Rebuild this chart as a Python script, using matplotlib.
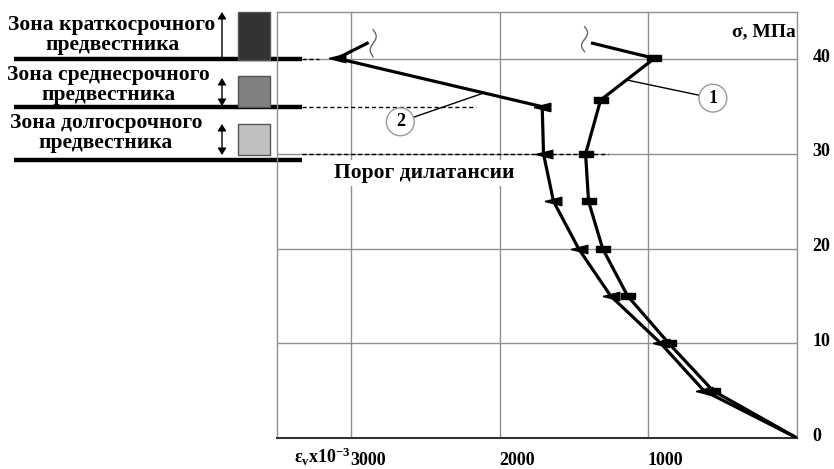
import numpy as np
import matplotlib
matplotlib.use('Agg')
import matplotlib.pyplot as plt
from matplotlib.transforms import ScaledTranslation, blended_transform_factory
from matplotlib.patches import Rectangle, FancyArrowPatch

# Curve 1 (square markers) and curve 2 (triangle markers): strain x1e-3 vs stress, MPa
eps_1 = [0, 566, 863, 1140, 1308, 1403, 1423, 1322, 960, 1376]
sigma_1 = [0, 5, 10, 15, 20, 25, 30, 35.7, 40.1, 41.7]
eps_2 = [0, 627, 917, 1254, 1470, 1639, 1706, 1715, 3095, 2893]
sigma_2 = [0, 5, 10, 15, 20, 25, 30, 35, 40.1, 41.7]

x_ticks = [3000, 2000, 1000]
y_ticks = [0, 10, 20, 30, 40]

# Precursor zones: label, box colour, zone bottom (MPa)
zone_labels = ['Зона краткосрочного\nпредвестника',
               'Зона среднесрочного\nпредвестника',
               'Зона долгосрочного\nпредвестника']
zone_colors = ['#333333', '#808080', '#c0c0c0']
zone_levels = [40, 35, 29.4]
threshold_label = 'Порог дилатансии'

W, H = 834, 469
SERIF = 'Liberation Serif'
plt.rcParams['font.family'] = SERIF
plt.rcParams['font.weight'] = 'bold'
plt.rcParams['mathtext.fontset'] = 'custom'
plt.rcParams['mathtext.rm'] = 'Liberation Serif:bold'
plt.rcParams['mathtext.it'] = 'Liberation Serif:bold'


def fx(px):
    return px / W


def fy(py):
    return 1 - py / H


fig = plt.figure(figsize=(W / 100, H / 100), dpi=100)
ax = fig.add_axes([fx(277), fy(438), (797 - 277) / W, (438 - 12) / H])
ax.set_xlim(3500, 0)
ax.set_ylim(0, 45)

# Frame and grid
grid_c = '#8f8f8f'
for side in ['left', 'top', 'right']:
    ax.spines[side].set_color(grid_c)
    ax.spines[side].set_linewidth(1)
ax.spines['bottom'].set_color('#333333')
ax.spines['bottom'].set_linewidth(1.5)
ax.set_xticks(x_ticks)
ax.set_yticks(y_ticks)
ax.grid(True, color=grid_c, lw=1)
ax.set_axisbelow(True)
ax.yaxis.tick_right()
ax.tick_params(axis='both', length=0, labelsize=13)
ax.tick_params(axis='x', pad=10)
ax.tick_params(axis='y', pad=11)
for lab in ax.get_xticklabels():
    lab.set_fontweight('bold')
    lab.set_transform(lab.get_transform() + ScaledTranslation(0.17, 0, fig.dpi_scale_trans))
for lab in ax.get_yticklabels():
    lab.set_fontweight('bold')
    lab.set_transform(lab.get_transform() + ScaledTranslation(0, 0.04, fig.dpi_scale_trans))

# Markers: flat rectangle and flat left-pointing triangle
rect_marker = [(-1, -0.45), (1, -0.45), (1, 0.45), (-1, 0.45), (-1, -0.45)]
tri_marker = [(-1, 0), (1, 0.5), (1, -0.5), (-1, 0)]

ax.plot(eps_1, sigma_1, color='black', lw=2.3, marker=rect_marker, ms=10,
        markevery=slice(1, -1), zorder=5, solid_joinstyle='miter')
ax.plot(eps_2, sigma_2, color='black', lw=2.3, marker=tri_marker, ms=12,
        markevery=slice(1, -1), zorder=5, solid_joinstyle='miter')

# Squiggles at the curve ends (drawn in pixel offsets from the end points)
t = np.linspace(0, 1, 40)
for ex, ey, dx, dy, hgt in [(eps_1[-1], sigma_1[-1], -8, 4, 25),
                            (eps_2[-1], sigma_2[-1], 6, 0, 27)]:
    tr = fig.dpi_scale_trans + ScaledTranslation(ex, ey, ax.transData)
    sx = (dx + 3 * np.sin(2 * np.pi * t)) / 100
    sy = (dy + hgt * (0.5 - t)) / 100
    ax.plot(sx, sy, color='#666666', lw=1, transform=tr, clip_on=False)

# Numbered callouts
circ = dict(boxstyle='circle,pad=0.3', fc='white', ec='#999999', lw=1)
ax.annotate('1', xy=(1140, 37.8), xytext=(566, 35.9), ha='center', va='center',
            fontsize=13, fontweight='bold', bbox=circ,
            arrowprops=dict(arrowstyle='-', color='black', lw=1, shrinkA=0, shrinkB=0), zorder=6)
ax.annotate('2', xy=(2117, 36.4), xytext=(2670, 33.4), ha='center', va='center',
            fontsize=13, fontweight='bold', bbox=circ,
            arrowprops=dict(arrowstyle='-', color='black', lw=1, shrinkA=0, shrinkB=0), zorder=6)

# Dashed level lines
ax.plot([3330, 3220], [40, 40], color='black', lw=1, ls=(0, (3, 2)), zorder=4)
ax.plot([3330, 2160], [35, 35], color='black', lw=1, ls=(0, (3, 2)), zorder=4)
ax.plot([3330, 1270], [30, 30], color='black', lw=1, ls=(0, (3, 2)), zorder=4)

ax.text(2508, 28.0, threshold_label, ha='center', va='center', fontsize=15.5,
        fontweight='bold', zorder=3,
        bbox=dict(fc='white', ec='none', pad=2))

ax.text(0.997, 0.953, 'σ, МПа', transform=ax.transAxes, ha='right', va='center',
        fontsize=14, fontweight='bold')

# Axis label left of "3000"
fig.text(fx(351), fy(457), r'$\epsilon_v$x10$^{-3}$', ha='right', va='center',
         fontsize=13, fontweight='bold')

# Left panel: zone labels, arrows, colour boxes and level bars
bar_tr = blended_transform_factory(fig.transFigure, ax.transData)
for lvl in zone_levels:
    ax.plot([fx(14), fx(302)], [lvl, lvl], color='black', lw=3.2,
            transform=bar_tr, clip_on=False, solid_capstyle='butt')

text_pos = [(112, 35), (108, 85), (106, 133)]
for (tx, ty), lab in zip(text_pos, zone_labels):
    fig.text(fx(tx), fy(ty), lab, ha='center', va='center', fontsize=15.5,
             fontweight='bold', linespacing=0.95)

box_y = [(12, 60), (76, 107), (124, 155)]
for (y0, y1), c in zip(box_y, zone_colors):
    fig.patches.append(Rectangle((fx(238), fy(y1)), (270 - 238) / W, (y1 - y0) / H,
                                 transform=fig.transFigure, fc=c, ec='#555555', lw=1))

arrows = [((58, 12), '-|>'), ((78, 106), '<|-|>'), ((124, 155), '<|-|>')]
for (y0, y1), style in arrows:
    fig.add_artist(FancyArrowPatch(
        (fx(222), fy(y0)), (fx(222), fy(y1)), transform=fig.transFigure,
        arrowstyle=style + ',head_length=4,head_width=2.5', color='black', lw=1,
        shrinkA=0, shrinkB=0))

fig.savefig('out.png', dpi=100)
